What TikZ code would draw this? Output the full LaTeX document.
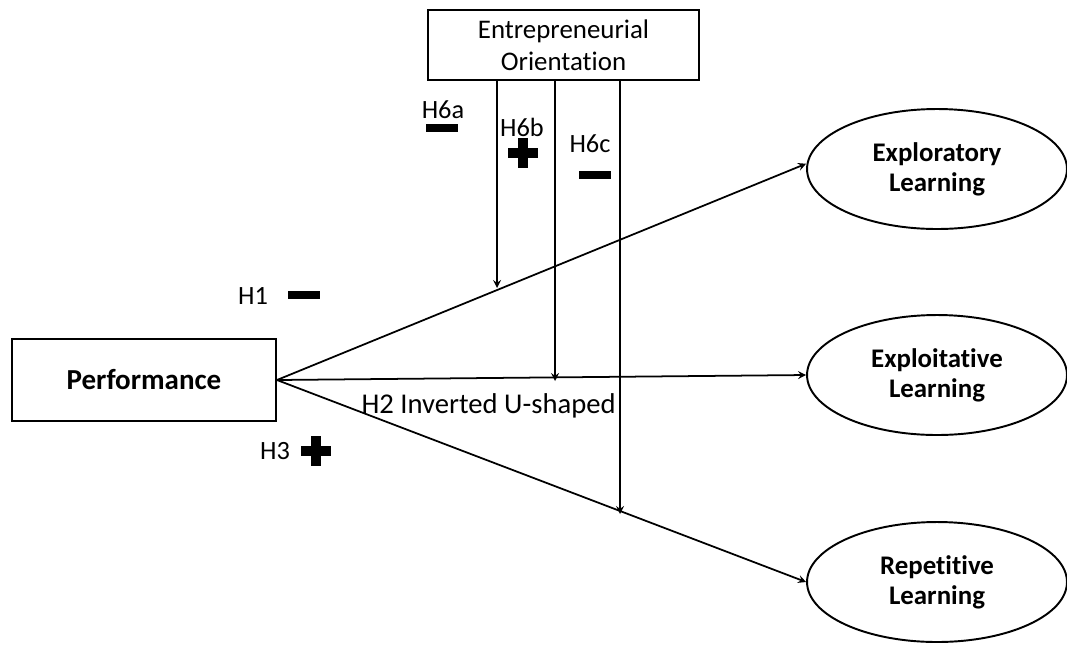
\documentclass[tikz,border=0pt]{standalone}
\usepackage{fontspec}
\setmainfont{Carlito}[Ligatures=NoCommon]
\usetikzlibrary{shapes.geometric, arrows}
\tikzstyle{construct} = [rectangle, 
minimum width=5.28cm, 
minimum height=1.64cm,
text centered, 
draw=black, line width=1.1pt,
font=\bfseries\fontsize{16.5}{19}\selectfont]
\tikzstyle{moderator} = [rectangle, 
minimum width=5.34cm, 
minimum height=1.4cm,
text centered, 
text width=5.2cm,
draw=black, line width=1.1pt,
font=\fontsize{15.3}{18}\selectfont]
\tikzstyle{outcome} = [ellipse, 
minimum width=5.2cm, 
minimum height=2.4cm,
align=center, 
draw=black, line width=1.1pt,
font=\bfseries\fontsize{15.3}{17}\selectfont]
\tikzstyle{hyp} = [font=\fontsize{15}{17}\selectfont, inner sep=1pt]
\tikzstyle{negsign} = [rectangle, fill=black, 
minimum width=0.64cm, minimum height=0.16cm, inner sep=0pt]
\tikzstyle{possign} = [rectangle, 
minimum width=0.6cm, minimum height=0.6cm, inner sep=0pt,
path picture={
\fill[black] (path picture bounding box.center) ++(-0.3cm,-0.1cm) rectangle ++(0.6cm,0.2cm);
\fill[black] (path picture bounding box.center) ++(-0.1cm,-0.3cm) rectangle ++(0.2cm,0.6cm);}]
\tikzstyle{arrow} = [line width=1pt,->,>=stealth]

\begin{document}
\begin{tikzpicture}[x=0.02cm, y=-0.02cm]
\useasboundingbox (0,0) rectangle (1067,657);

\node (perf) [construct] at (144,380) {Performance};
\node (eo) [moderator] at (563.5,45) {Entrepreneurial\\Orientation};
\node (explor) [outcome] at (937,169) {Exploratory\\Learning};
\node (exploit) [outcome] at (937,375) {Exploitative\\Learning};
\node (repet) [outcome] at (937,582) {Repetitive\\Learning};

% main effects
\draw [arrow] (perf.east) -- ([yshift=3pt]explor.west);
\draw [arrow] (perf.east) -- node (h2lab) [pos=0.4, below, font=\fontsize{16.3}{18}\selectfont, yshift=-5pt] {H2 Inverted U-shaped} (exploit.west);
\draw [arrow] (perf.east) -- (repet.west);

% moderation
\coordinate (m1) at (497,288);
\coordinate (m2) at (555,381);
\coordinate (m3) at (620,514);
\draw [arrow] (eo.south -| m1) -- (m1);
\draw [arrow] (eo.south -| m2) -- (m2);
\draw [arrow] (eo.south -| m3) -- (m3);

% hypotheses
\node (h1) [hyp] at (253,296) {H1};
\node (h1s) [negsign] at (304,295) {};
\node (h3) [hyp] at (275,451) {H3};
\node (h3s) [possign] at (316,451) {};
\node (h6a) [hyp] at (443,110) {H6a};
\node (h6as) [negsign] at (442,128) {};
\node (h6b) [hyp] at (522,127) {H6b};
\node (h6bs) [possign] at (523,153) {};
\node (h6c) [hyp] at (590,144) {H6c};
\node (h6cs) [negsign] at (595,175) {};

\end{tikzpicture}
\end{document}
